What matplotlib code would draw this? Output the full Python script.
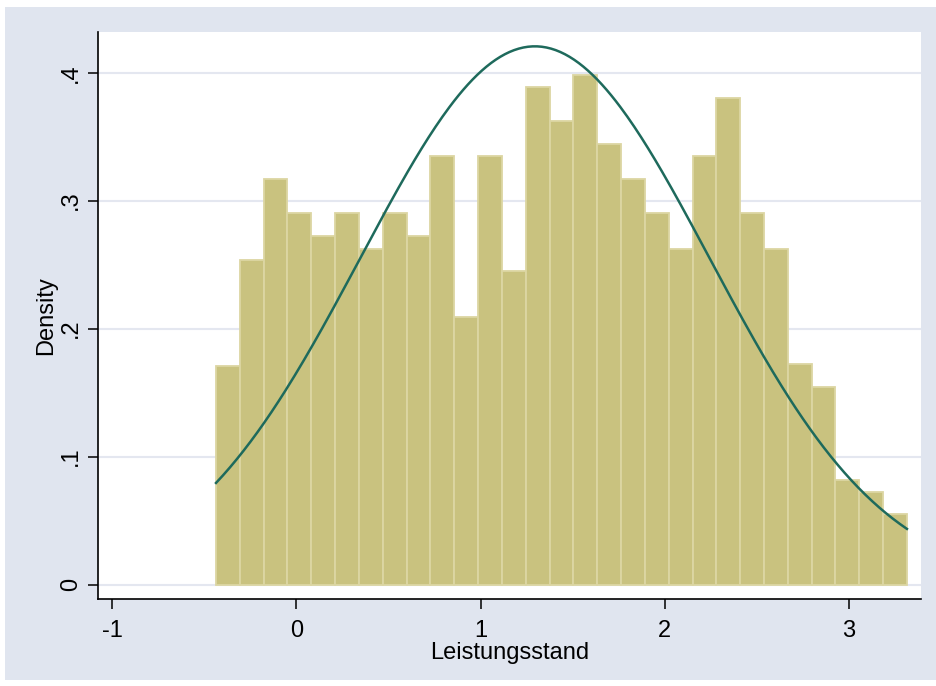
import numpy as np
import matplotlib.pyplot as plt
from matplotlib.patches import Rectangle

plt.rcParams['font.family'] = ['Liberation Sans', 'DejaVu Sans']
plt.rcParams['axes.unicode_minus'] = False

# histogram of Leistungsstand (density scale), 29 bins
bin_start = -0.437
bin_width = 0.1294
density = [0.171, 0.254, 0.317, 0.290, 0.272, 0.290, 0.262, 0.290, 0.272,
           0.335, 0.209, 0.335, 0.245, 0.389, 0.362, 0.398, 0.344, 0.317,
           0.290, 0.262, 0.335, 0.380, 0.290, 0.262, 0.172, 0.154, 0.082,
           0.072, 0.055]

# normal overlay
mu = 1.295
sd = 0.9485

yticks = [0, 0.1, 0.2, 0.3, 0.4]
ytick_labels = ["0", ".1", ".2", ".3", ".4"]
xticks = [-1, 0, 1, 2, 3]

bg = '#E0E5EF'
fig = plt.figure(figsize=(9.37, 6.86), dpi=100, facecolor='white')
fig.patches.append(Rectangle((5 / 937, 6 / 686), 932 / 937, 673 / 686,
                             transform=fig.transFigure, facecolor=bg,
                             edgecolor='none', zorder=-10))

ax = fig.add_axes([98 / 937, 1 - 599 / 686, 823 / 937, 567 / 686])
ax.set_zorder(5)
ax.set_facecolor('white')

edges = bin_start + bin_width * np.arange(len(density))
ax.bar(edges, density, width=bin_width, align='edge', color='#C9C27F',
       edgecolor='#DCD6A3', linewidth=1.3, zorder=2)

x_end = bin_start + bin_width * len(density)
xs = np.linspace(bin_start, x_end, 300)
ys = np.exp(-0.5 * ((xs - mu) / sd) ** 2) / (sd * np.sqrt(2 * np.pi))
ax.plot(xs, ys, color='#1E6A5C', linewidth=1.8, zorder=3)

ax.set_xlim(-1.078, 3.392)
ax.set_ylim(-0.0113, 0.4318)
ax.set_yticks(yticks)
ax.set_yticklabels(ytick_labels, rotation=90, va='center')
ax.set_xticks(xticks)
ax.yaxis.grid(True, color='#E4E7F0', linewidth=1.5, zorder=0)
ax.set_axisbelow(True)

for s in ['top', 'right']:
    ax.spines[s].set_visible(False)
for s in ['left', 'bottom']:
    ax.spines[s].set_linewidth(1.2)
ax.tick_params(axis='both', direction='out', length=7, width=1.1,
               labelsize=17)
ax.tick_params(axis='x', pad=8)
ax.tick_params(axis='y', pad=4.5)

ax.set_xlabel("Leistungsstand", fontsize=17, labelpad=0)
ax.set_ylabel("Density", fontsize=17, labelpad=2)

fig.savefig("out.png", dpi=100, facecolor=fig.get_facecolor())
